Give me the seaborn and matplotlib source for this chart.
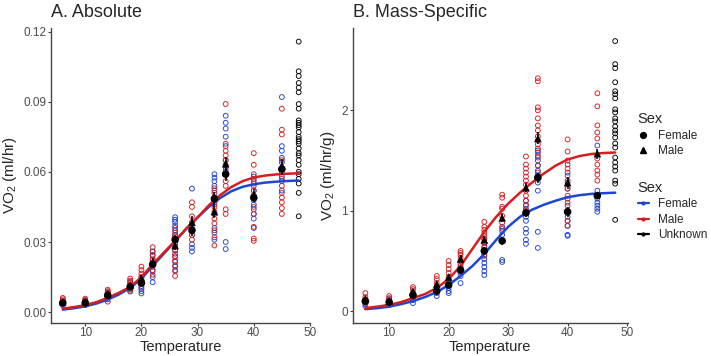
import matplotlib
matplotlib.use("Agg")
import pandas as pd
import seaborn as sns
import matplotlib.pyplot as plt
from matplotlib.lines import Line2D
from matplotlib.ticker import FormatStrFormatter

# temperatures measured for the sexed animals, unknown sex only at 48
temps = [6, 10, 14, 18, 20, 22, 26, 29, 33, 35, 40, 45]
unknown_temp = 48

# A. absolute VO2 (ml/hr), raw points
abs_female = [
    [0.0030, 0.0036, 0.0040, 0.0045],
    [0.0030, 0.0037, 0.0043, 0.0050],
    [0.0055, 0.0068, 0.0078, 0.0085],
    [0.0088, 0.0098, 0.0108, 0.0118, 0.0130],
    [0.0080, 0.0090, 0.0100, 0.0112, 0.0125, 0.0140, 0.0150],
    [0.0128, 0.0150, 0.0175, 0.0200, 0.0225, 0.0245, 0.0260],
    [0.0175, 0.0195, 0.0215, 0.0240, 0.0265, 0.0290, 0.0310, 0.0330, 0.0350, 0.0370, 0.0385, 0.0395, 0.0406],
    [0.0260, 0.0275, 0.0290, 0.0330, 0.0360, 0.0528],
    [0.0310, 0.0340, 0.0360, 0.0420, 0.0460, 0.0490, 0.0520, 0.0540, 0.0560, 0.0575, 0.0590],
    [0.0270, 0.0300, 0.0600, 0.0620, 0.0650, 0.0710, 0.0750, 0.0785, 0.0810, 0.0840],
    [0.0360, 0.0400, 0.0420, 0.0440, 0.0460, 0.0480, 0.0500, 0.0520, 0.0540, 0.0560, 0.0580],
    [0.0520, 0.0560, 0.0580, 0.0600, 0.0640, 0.0660, 0.0690, 0.0710, 0.0920],
]
abs_male = [
    [0.0035, 0.0042, 0.0048, 0.0055, 0.0061],
    [0.0033, 0.0040, 0.0046, 0.0052, 0.0058],
    [0.0045, 0.0065, 0.0075, 0.0083, 0.0090, 0.0096],
    [0.0092, 0.0105, 0.0115, 0.0125, 0.0135, 0.0144],
    [0.0105, 0.0120, 0.0135, 0.0150, 0.0165, 0.0180, 0.0195],
    [0.0160, 0.0180, 0.0195, 0.0210, 0.0225, 0.0240, 0.0258, 0.0278],
    [0.0155, 0.0180, 0.0200, 0.0220, 0.0235, 0.0250, 0.0265, 0.0280, 0.0295, 0.0310, 0.0325, 0.0340, 0.0360],
    [0.0310, 0.0330, 0.0350, 0.0385, 0.0410, 0.0450, 0.0470],
    [0.0285, 0.0320, 0.0350, 0.0380, 0.0400, 0.0430, 0.0450, 0.0470, 0.0490, 0.0510, 0.0530],
    [0.0420, 0.0440, 0.0540, 0.0560, 0.0590, 0.0610, 0.0630, 0.0650, 0.0670, 0.0690, 0.0720, 0.0890],
    [0.0305, 0.0315, 0.0365, 0.0420, 0.0450, 0.0490, 0.0520, 0.0550, 0.0570, 0.0590, 0.0630, 0.0680],
    [0.0420, 0.0445, 0.0470, 0.0490, 0.0510, 0.0540, 0.0570, 0.0610, 0.0650, 0.0760, 0.0780, 0.0870],
]
abs_unknown = [0.0410, 0.0510, 0.0550, 0.0570, 0.0590, 0.0600, 0.0630, 0.0650, 0.0670, 0.0680,
               0.0700, 0.0720, 0.0730, 0.0740, 0.0750, 0.0770, 0.0790, 0.0800, 0.0810, 0.0820,
               0.0870, 0.0890, 0.0940, 0.0960, 0.0980, 0.1010, 0.1030, 0.1157]
abs_mean_female = [0.0040, 0.0040, 0.0072, 0.0108, 0.0125, 0.0205, 0.0310, 0.0350, 0.0485, 0.0590, 0.0490, 0.0612]
abs_mean_male = [0.0045, 0.0045, 0.0080, 0.0115, 0.0145, 0.0215, 0.0285, 0.0385, 0.0430, 0.0635, 0.0500, 0.0625]
abs_se_female = [0.0004, 0.0004, 0.0006, 0.0008, 0.0012, 0.0015, 0.0018, 0.0025, 0.0028, 0.0030, 0.0020, 0.0025]
abs_se_male = [0.0004, 0.0004, 0.0007, 0.0008, 0.0012, 0.0015, 0.0018, 0.0025, 0.0028, 0.0030, 0.0028, 0.0030]

# B. mass-specific VO2 (ml/hr/g), raw points
mass_female = [
    [0.05, 0.07, 0.09, 0.11],
    [0.06, 0.08, 0.10, 0.12],
    [0.08, 0.11, 0.14, 0.17],
    [0.15, 0.18, 0.21, 0.24],
    [0.18, 0.20, 0.23, 0.27, 0.31],
    [0.28, 0.35, 0.39, 0.43, 0.47],
    [0.36, 0.40, 0.44, 0.48, 0.52, 0.56, 0.60, 0.64, 0.68, 0.72],
    [0.49, 0.51, 0.70, 0.76, 0.80, 0.84],
    [0.67, 0.71, 0.78, 0.82, 0.90, 0.94, 0.98, 1.02, 1.06, 1.10],
    [0.63, 0.79, 1.20, 1.28, 1.35, 1.40, 1.45, 1.50, 1.55, 1.60],
    [0.75, 0.76, 0.85, 0.90, 0.94, 0.98, 1.05, 1.12, 1.22, 1.30, 1.38, 1.46],
    [0.99, 1.02, 1.05, 1.08, 1.12, 1.16, 1.20, 1.65],
]
mass_male = [
    [0.08, 0.10, 0.12, 0.14, 0.18],
    [0.07, 0.09, 0.11, 0.13, 0.15],
    [0.12, 0.16, 0.19, 0.22, 0.24],
    [0.20, 0.24, 0.28, 0.32, 0.35],
    [0.26, 0.30, 0.34, 0.38, 0.42, 0.46, 0.50],
    [0.40, 0.45, 0.50, 0.53, 0.56, 0.58, 0.60],
    [0.55, 0.60, 0.64, 0.68, 0.72, 0.75, 0.78, 0.81, 0.84, 0.89],
    [0.82, 0.88, 0.95, 1.02, 1.04, 1.13, 1.16],
    [1.00, 1.05, 1.10, 1.15, 1.20, 1.26, 1.30, 1.34, 1.38, 1.42, 1.46, 1.54],
    [1.38, 1.45, 1.53, 1.58, 1.62, 1.66, 1.70, 1.74, 1.80, 1.85, 1.92, 2.00, 2.03, 2.29, 2.32],
    [0.85, 0.90, 1.00, 1.08, 1.15, 1.22, 1.28, 1.35, 1.42, 1.50, 1.59, 1.71],
    [1.30, 1.36, 1.40, 1.46, 1.52, 1.72, 1.78, 1.85, 2.04, 2.17],
]
mass_unknown = [0.91, 1.27, 1.30, 1.40, 1.44, 1.48, 1.53, 1.63, 1.67, 1.73, 1.77, 1.80,
                1.84, 1.89, 1.92, 1.98, 2.01, 2.12, 2.16, 2.19, 2.28, 2.42, 2.46, 2.69]
mass_mean_female = [0.10, 0.09, 0.16, 0.20, 0.26, 0.41, 0.60, 0.70, 0.98, 1.33, 0.99, 1.15]
mass_mean_male = [0.12, 0.10, 0.20, 0.27, 0.34, 0.52, 0.71, 0.93, 1.23, 1.72, 1.28, 1.57]
mass_se_female = [0.012, 0.012, 0.02, 0.02, 0.025, 0.03, 0.035, 0.04, 0.04, 0.05, 0.05, 0.03]
mass_se_male = [0.014, 0.014, 0.02, 0.025, 0.03, 0.035, 0.035, 0.04, 0.045, 0.06, 0.06, 0.05]

# fitted curves
curve_temps = [6, 8, 10, 12, 14, 16, 18, 20, 22, 24, 26, 28, 30, 32, 34, 36, 38, 40, 42, 44, 46, 48]
abs_curve_female = [0.0011, 0.0017, 0.0025, 0.0037, 0.0054, 0.0076, 0.0104, 0.0143, 0.0198, 0.0250, 0.0303,
                    0.0357, 0.0405, 0.0450, 0.0488, 0.0517, 0.0536, 0.0547, 0.0554, 0.0558, 0.0561, 0.0563]
abs_curve_male = [0.0015, 0.0022, 0.0030, 0.0043, 0.0061, 0.0083, 0.0108, 0.0150, 0.0205, 0.0255, 0.0305,
                  0.0358, 0.0405, 0.0457, 0.0500, 0.0535, 0.0560, 0.0576, 0.0584, 0.0589, 0.0592, 0.0594]
mass_curve_female = [0.02, 0.03, 0.045, 0.07, 0.10, 0.14, 0.19, 0.26, 0.35, 0.45, 0.57,
                     0.71, 0.84, 0.94, 1.01, 1.06, 1.10, 1.135, 1.155, 1.168, 1.175, 1.18]
mass_curve_male = [0.03, 0.045, 0.062, 0.09, 0.13, 0.17, 0.23, 0.32, 0.45, 0.62, 0.79,
                   0.94, 1.07, 1.18, 1.28, 1.37, 1.45, 1.51, 1.545, 1.565, 1.575, 1.58]

BLUE = "#1f45d4"
RED = "#d41f1f"
palette = {"Female": BLUE, "Male": RED, "Unknown": "black"}


def raw_frame(female, male, unknown):
    rows = []
    for t, vals in zip(temps, female):
        rows += [(t, v, "Female") for v in vals]
    for t, vals in zip(temps, male):
        rows += [(t, v, "Male") for v in vals]
    rows += [(unknown_temp, v, "Unknown") for v in unknown]
    return pd.DataFrame(rows, columns=["Temperature", "VO2", "Sex"])


def mean_frame(mf, mm, sf, sm):
    df_f = pd.DataFrame({"Temperature": temps, "VO2": mf, "se": sf, "Sex": "Female"})
    df_m = pd.DataFrame({"Temperature": temps, "VO2": mm, "se": sm, "Sex": "Male"})
    return pd.concat([df_f, df_m], ignore_index=True)


def curve_frame(cf, cm):
    df_f = pd.DataFrame({"Temperature": curve_temps, "VO2": cf, "Sex": "Female"})
    df_m = pd.DataFrame({"Temperature": curve_temps, "VO2": cm, "Sex": "Male"})
    return pd.concat([df_f, df_m], ignore_index=True)


sns.set_style("ticks")
plt.rcParams["font.family"] = ["Liberation Sans", "DejaVu Sans"]
plt.rcParams["mathtext.fontset"] = "custom"
plt.rcParams["mathtext.rm"] = "Liberation Sans"
plt.rcParams["mathtext.it"] = "Liberation Sans:italic"

fig = plt.figure(figsize=(7.11, 3.56), dpi=100)
axA = fig.add_axes([0.0717, 0.0935, 0.365, 0.8278])
axB = fig.add_axes([0.4963, 0.0935, 0.3865, 0.8278])


def draw_panel(ax, raw, means, curves):
    sns.scatterplot(data=raw, x="Temperature", y="VO2", hue="Sex", palette=palette,
                    marker="o", s=12, linewidth=0.65, legend=False, ax=ax)
    pts = ax.collections[-1]
    pts.set_edgecolors(pts.get_facecolors())
    pts.set_facecolors("none")
    sns.lineplot(data=curves, x="Temperature", y="VO2", hue="Sex", palette=palette,
                 linewidth=1.8, legend=False, ax=ax)
    ax.errorbar(means["Temperature"], means["VO2"], yerr=means["se"], fmt="none",
                ecolor="black", elinewidth=1.1, capsize=0, zorder=4)
    sns.scatterplot(data=means, x="Temperature", y="VO2", style="Sex",
                    markers={"Female": "o", "Male": "^"}, color="black", s=30,
                    linewidth=0, legend=False, ax=ax, zorder=5)
    ax.set_xlim(3.9, 50.1)
    ax.set_xticks([10, 20, 30, 40, 50])
    ax.set_xlabel("Temperature", fontsize=10.5)
    ax.xaxis.set_label_coords(0.5, -0.06)
    for side in ["top", "right"]:
        ax.spines[side].set_visible(False)
    for side in ["left", "bottom"]:
        ax.spines[side].set_color("#444444")
        ax.spines[side].set_linewidth(1.0)
    ax.tick_params(colors="#444444", labelcolor="#4d4d4d", labelsize=8.5,
                   length=2.2, width=0.8, pad=1.2)


draw_panel(axA, raw_frame(abs_female, abs_male, abs_unknown),
           mean_frame(abs_mean_female, abs_mean_male, abs_se_female, abs_se_male),
           curve_frame(abs_curve_female, abs_curve_male))
axA.set_ylim(-0.0045, 0.1215)
axA.set_yticks([0.00, 0.03, 0.06, 0.09, 0.12])
axA.yaxis.set_major_formatter(FormatStrFormatter("%.2f"))
axA.set_ylabel("VO$_2$ (ml/hr)", fontsize=11)
axA.yaxis.set_label_coords(-0.123, 0.5)
axA.set_title("A. Absolute", loc="left", fontsize=13, pad=8)

draw_panel(axB, raw_frame(mass_female, mass_male, mass_unknown),
           mean_frame(mass_mean_female, mass_mean_male, mass_se_female, mass_se_male),
           curve_frame(mass_curve_female, mass_curve_male))
axB.set_ylim(-0.115, 2.82)
axB.set_yticks([0, 1, 2])
axB.set_ylabel("VO$_2$ (ml/hr/g)", fontsize=11)
axB.yaxis.set_label_coords(-0.058, 0.5)
axB.set_title("B. Mass-Specific", loc="left", fontsize=13, pad=8)

shape_handles = [
    Line2D([], [], linestyle="none", marker="o", color="black", markersize=4.2),
    Line2D([], [], linestyle="none", marker="^", color="black", markersize=4.6),
]
line_handles = [
    Line2D([], [], color=BLUE, linewidth=1.6, marker="o", markersize=2.0),
    Line2D([], [], color=RED, linewidth=1.6, marker="o", markersize=2.0),
    Line2D([], [], color="black", linewidth=1.6, marker="o", markersize=2.0),
]
legend_kw = dict(loc="upper left", frameon=False, fontsize=8.5, title_fontsize=10.5,
                 handlelength=0.95, handletextpad=0.8, labelspacing=0.3,
                 borderaxespad=0, borderpad=0)
leg1 = fig.legend(shape_handles, ["Female", "Male"], title="Sex",
                  bbox_to_anchor=(0.897, 0.685), **legend_kw)
leg1._legend_box.align = "left"
leg2 = fig.legend(line_handles, ["Female", "Male", "Unknown"], title="Sex",
                  bbox_to_anchor=(0.897, 0.492), **legend_kw)
leg2._legend_box.align = "left"

fig.savefig("out.png", dpi=100)
